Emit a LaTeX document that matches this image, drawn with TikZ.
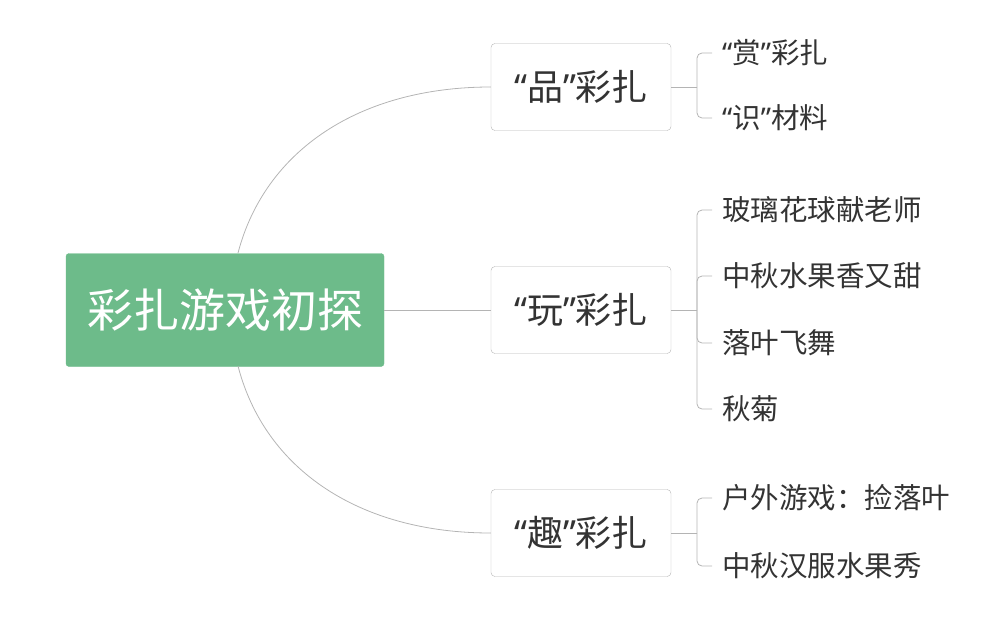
\documentclass[tikz,border=0pt]{standalone}
\usepackage{fontspec}
\setmainfont{Noto Sans CJK SC}
\newfontfamily\quotefont{Noto Sans}
\newcommand\oq{{\quotefont “}}
\newcommand\cq{{\quotefont ”}}
\usetikzlibrary{positioning}
\definecolor{rootgreen}{HTML}{6DBB8A}
\definecolor{linegray}{HTML}{B4B4B4}
\definecolor{txtgray}{HTML}{333333}
\tikzset{
  root/.style={fill=rootgreen, draw=rootgreen, rounded corners=3pt, minimum width=318pt, minimum height=113pt, text=white, font=\fontsize{46}{48}\selectfont},
  branch/.style={draw=linegray, rounded corners=4pt, minimum width=180pt, minimum height=87pt, text=txtgray, font=\fontsize{36}{38}\selectfont},
  leaf/.style={anchor=west, inner xsep=10pt, text=txtgray, font=\fontsize{28.5}{30}\selectfont},
  link/.style={draw=linegray, line width=0.8pt},
  tick/.style={link, rounded corners=5pt}
}
\begin{document}
\begin{tikzpicture}[x=1pt,y=-1pt]
  \useasboundingbox (0,0) rectangle (988,616);
  % main node and branches
  \node[root] (root) at (225,310) {彩扎游戏初探};
  \node[branch] (pin) at (581,87) {\oq 品\cq 彩扎};
  \node[branch] (wan) at (581,310) {\oq 玩\cq 彩扎};
  \node[branch] (qu) at (581,533) {\oq 趣\cq 彩扎};
  \coordinate (rtop) at (238,253);
  \coordinate (rbot) at (238,366);
  \draw[link] (rtop) .. controls (265,150) and (360,87) .. (pin.west);
  \draw[link] (root.east) -- (wan.west);
  \draw[link] (rbot) .. controls (265,470) and (360,533) .. (qu.west);
  % leaves
  \node[leaf] (p1) at (712,53) {\oq 赏\cq 彩扎};
  \node[leaf] (p2) at (712,118) {\oq 识\cq 材料};
  \node[leaf] (w1) at (712,210) {玻璃花球献老师};
  \node[leaf] (w2) at (712,276) {中秋水果香又甜};
  \node[leaf] (w3) at (712,343) {落叶飞舞};
  \node[leaf] (w4) at (712,409) {秋菊};
  \node[leaf] (q1) at (712,498) {户外游戏：捡落叶};
  \node[leaf] (q2) at (712,566) {中秋汉服水果秀};
  \coordinate (hp) at (697,87);
  \coordinate (hw) at (697,310);
  \coordinate (hq) at (697,533);
  \draw[link] (pin.east) -- (hp);
  \draw[link] (wan.east) -- (hw);
  \draw[link] (qu.east) -- (hq);
  \foreach \l in {p1,p2} \draw[tick] (hp) |- (\l.west);
  \foreach \l in {w1,w2,w3,w4} \draw[tick] (hw) |- (\l.west);
  \foreach \l in {q1,q2} \draw[tick] (hq) |- (\l.west);
\end{tikzpicture}
\end{document}
